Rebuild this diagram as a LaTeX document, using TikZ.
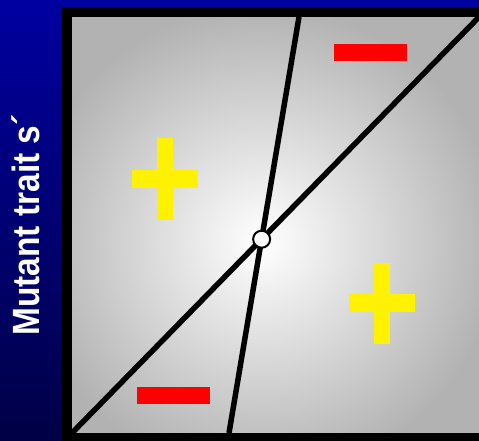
\documentclass[tikz,border=0pt]{standalone}
\usepackage{fontspec}
\setsansfont{Liberation Sans}
\usetikzlibrary{calc}
\definecolor{slidetop}{RGB}{0,0,160}
\definecolor{slidebot}{RGB}{0,0,70}
\tikzset{isoline/.style={line width=5.5,line cap=butt},
  minusbar/.style={fill=red,inner sep=0,minimum width=73,minimum height=17},
  plusbar/.style={fill=yellow,inner sep=0}}

\begin{document}
\begin{tikzpicture}[x=1pt,y=-1pt,line join=round]
\useasboundingbox (0,0) rectangle (479,441);
% --- slide background and axis label
\shade[top color=slidetop,bottom color=slidebot] (0,0) rectangle (479,441);
\node[rotate=90,xscale=0.88,white,inner sep=0,font=\sffamily\bfseries\fontsize{38}{38}\selectfont] (ylab) at (26,225) {Mutant trait s´};
% --- shaded square
\begin{scope}
\clip (72,17) rectangle (479,433);
\fill[black!30] (72,17) rectangle (479,433);
\shade[inner color=white,outer color=black!30] (262,242) circle (235);
\end{scope}
\coordinate (lo) at (72,433); \coordinate (hi) at (479,17);
\coordinate (fbot) at (229,433); \coordinate (ftop) at (299,17);
\draw[isoline] (lo) -- (hi);
\draw[isoline] (fbot) -- (ftop);
\draw[line width=10,line join=miter] (67,12) rectangle (484,438);
\node[circle,draw,fill=white,line width=2,inner sep=0,minimum size=17] (sing) at (intersection of lo--hi and fbot--ftop) {};
% --- signs
\foreach \px/\py/\nm in {165/179/pa,382/303/pb} {
  \node[plusbar,minimum width=16,minimum height=81] (\nm v) at (\px,\py) {};
  \node[plusbar,minimum width=66,minimum height=18] (\nm h) at (\px,\py) {};
}
\node[minusbar] (ma) at (370.5,52.5) {};
\node[minusbar] (mb) at (173.5,395.5) {};
\end{tikzpicture}
\end{document}
